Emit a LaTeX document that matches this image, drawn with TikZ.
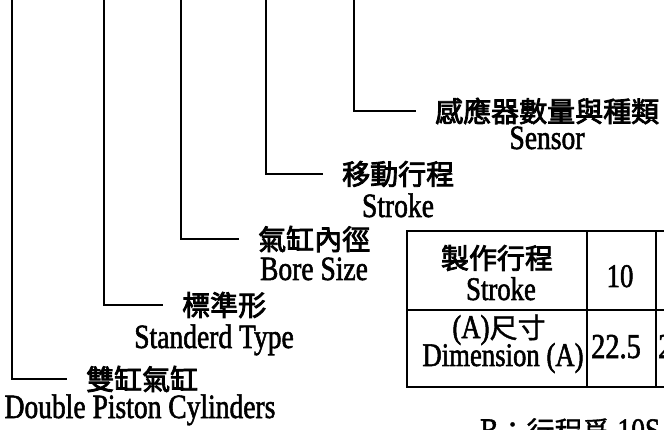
\documentclass[tikz,border=0pt]{standalone}
\usepackage{fontspec}
\setmainfont{Liberation Serif}[FakeStretch=0.81,FakeBold=1.6]
\newfontfamily\cjk{Noto Sans CJK TC}[FakeBold=3]
\newfontfamily\cjkr{Noto Sans CJK TC}[FakeBold=1.2]
\tikzset{
  lead/.style={line width=1.1pt, shorten >=19pt},
  cjklab/.style={inner sep=0pt, anchor=west, font=\cjk\fontsize{28}{30}\selectfont},
  enlab/.style={inner sep=0pt, anchor=base, font=\fontsize{34}{36}\selectfont},
  cell/.style={inner sep=0pt, font=\fontsize{33}{35}\selectfont},
  cellcjk/.style={inner sep=0pt, font=\cjk\fontsize{28}{30}\selectfont},
  tablegrid/.style={line width=1.1pt},
}
\begin{document}
\begin{tikzpicture}[x=1pt,y=-1pt]
\useasboundingbox (0,0) rectangle (664,430);
\clip (0,0) rectangle (664,430);
% leader tops
\coordinate (t1) at (12,0);
\coordinate (t2) at (104,0);
\coordinate (t3) at (181,0);
\coordinate (t4) at (266,0);
\coordinate (t5) at (354,0);
% labels
\node[cjklab] (c5) at (435,111) {感應器數量與種類};
\node[enlab] (e5) at (547,149) {Sensor};
\node[cjklab] (c4) at (342,174) {移動行程};
\node[enlab] (e4) at (398,217) {Stroke};
\node[cjklab] (c3) at (258,239) {氣缸內徑};
\node[enlab] (e3) at (314,280) {Bore Size};
\node[cjklab] (c2) at (182,305) {標準形};
\node[enlab] (e2) at (214,348) {Standerd Type};
\node[cjklab] (c1) at (86,379) {雙缸氣缸};
\node[enlab] (e1) at (140,418) {Double Piston Cylinders};
% leaders
\draw[lead] (t1) |- (c1.west);
\draw[lead] (t2) |- (c2.west);
\draw[lead] (t3) |- (c3.west);
\draw[lead] (t4) |- (c4.west);
\draw[lead] (t5) |- (c5.west);
% table
\draw[tablegrid] (407,231) rectangle (700,387);
\draw[tablegrid] (407,310) -- (700,310);
\draw[tablegrid] (587,231) -- (587,387);
\draw[tablegrid] (656,231) -- (656,387);
\node[cellcjk] (h1) at (497,258) {製作行程};
\node[cell, anchor=base] (h2) at (501,300) {Stroke};
\node[cell, anchor=base] (v1) at (620,287) {10};
\node[cell, anchor=base] (h3) at (499,338) {(A){\cjkr\fontsize{28}{30}\selectfont 尺寸}};
\node[cell, anchor=base] (h4) at (503,366) {Dimension (A)};
\node[cell, anchor=base, font=\fontsize{35}{37}\selectfont] (v2) at (616,358) {22.5};
\node[cell, anchor=base west, font=\fontsize{35}{37}\selectfont] (v3) at (658,358) {27.5};
% note
\node[anchor=north west, inner sep=0pt, font=\fontsize{34}{36}\selectfont] (note) at (480,418) {B{\cjkr\fontsize{28}{30}\selectfont ：行程爲} 10S};
\end{tikzpicture}
\end{document}
